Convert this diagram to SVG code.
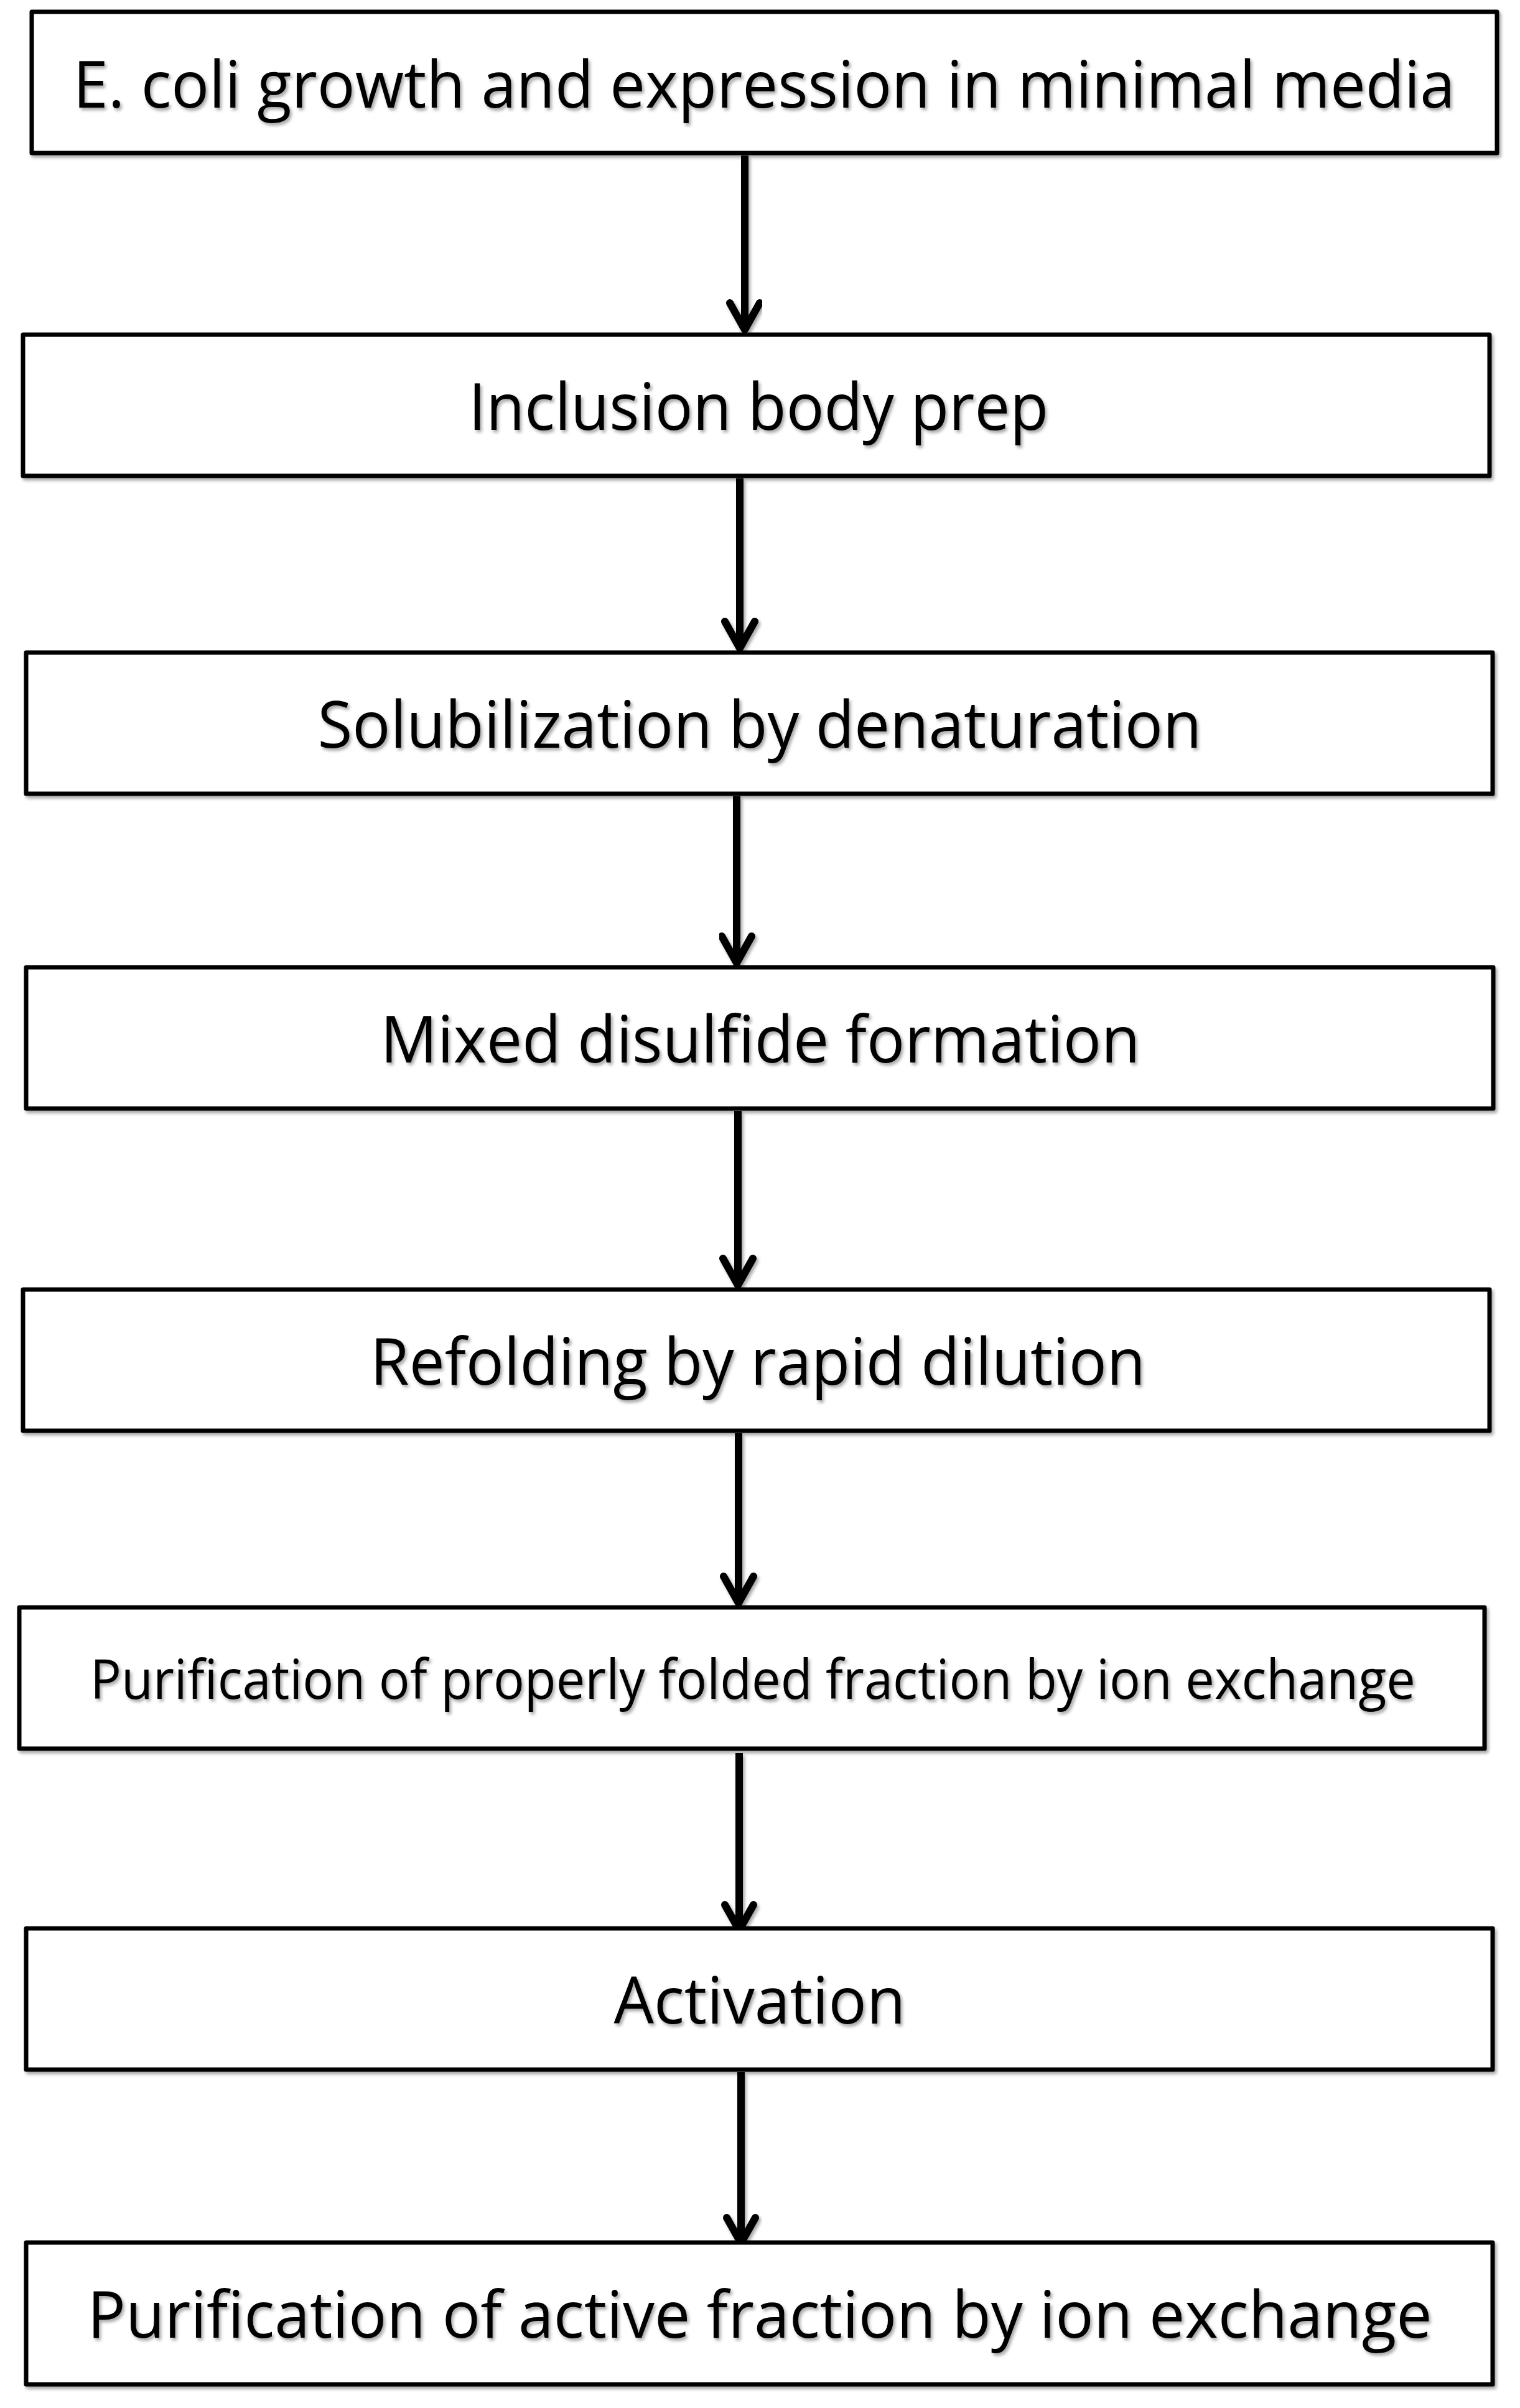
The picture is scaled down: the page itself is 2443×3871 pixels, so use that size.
<svg xmlns="http://www.w3.org/2000/svg" width="2443" height="3871" viewBox="0 0 2443 3871">
  <defs>
    <filter id="sh" x="-5%" y="-20%" width="110%" height="140%">
      <feDropShadow dx="3" dy="4" stdDeviation="2.5" flood-color="#000" flood-opacity="0.35"/>
    </filter>
    <style>
      .box { fill: #fff; stroke: #000; stroke-width: 7; stroke-linejoin: round; }
      .lbl { font-family: "Open Sans", "Noto Sans", "Liberation Sans", sans-serif; font-size: 105px; fill: #000; text-anchor: middle; }
      .sm { font-size: 88px; }
      .arr { fill: none; stroke: #000; stroke-width: 12; stroke-linecap: round; stroke-linejoin: round; }
      .shaft { stroke: #000; stroke-width: 12; stroke-linecap: butt; }
    </style>
  </defs>
  <rect width="2443" height="3871" fill="#fff"/>

  <g id="connectors" filter="url(#sh)">
    <line class="shaft" x1="1197" y1="250" x2="1197" y2="530"/>
    <polyline class="arr" points="1173,487 1197,530 1221,487"/>
    <line class="shaft" x1="1189" y1="769" x2="1189" y2="1042"/>
    <polyline class="arr" points="1165,999 1189,1042 1213,999"/>
    <line class="shaft" x1="1184" y1="1280" x2="1184" y2="1548"/>
    <polyline class="arr" points="1160,1505 1184,1548 1208,1505"/>
    <line class="shaft" x1="1186" y1="1786" x2="1186" y2="2066"/>
    <polyline class="arr" points="1162,2023 1186,2066 1210,2023"/>
    <line class="shaft" x1="1187" y1="2304" x2="1187" y2="2577"/>
    <polyline class="arr" points="1163,2534 1187,2577 1211,2534"/>
    <line class="shaft" x1="1188" y1="2818" x2="1188" y2="3103"/>
    <polyline class="arr" points="1165,3062 1188,3103 1211,3062"/>
    <line class="shaft" x1="1191" y1="3331" x2="1191" y2="3606"/>
    <polyline class="arr" points="1168,3565 1191,3606 1214,3565"/>
  </g>

  <g id="n1">
    <rect class="box" x="51" y="19" width="2355" height="227" filter="url(#sh)"/>
    <text class="lbl" x="1228" y="173" textLength="2221" lengthAdjust="spacingAndGlyphs" filter="url(#sh)">E. coli growth and expression in minimal media</text>
  </g>
  <g id="n2">
    <rect class="box" x="37" y="538" width="2357" height="227" filter="url(#sh)"/>
    <text class="lbl" x="1219" y="691" textLength="932" lengthAdjust="spacingAndGlyphs" filter="url(#sh)">Inclusion body prep</text>
  </g>
  <g id="n3">
    <rect class="box" x="42" y="1049" width="2357" height="227" filter="url(#sh)"/>
    <text class="lbl" x="1221" y="1202" textLength="1421" lengthAdjust="spacingAndGlyphs" filter="url(#sh)">Solubilization by denaturation</text>
  </g>
  <g id="n4">
    <rect class="box" x="42" y="1555" width="2358" height="227" filter="url(#sh)"/>
    <text class="lbl" x="1222" y="1708" textLength="1221" lengthAdjust="spacingAndGlyphs" filter="url(#sh)">Mixed disulfide formation</text>
  </g>
  <g id="n5">
    <rect class="box" x="37" y="2073" width="2357" height="227" filter="url(#sh)"/>
    <text class="lbl" x="1218" y="2226" textLength="1246" lengthAdjust="spacingAndGlyphs" filter="url(#sh)">Refolding by rapid dilution</text>
  </g>
  <g id="n6">
    <rect class="box" x="31" y="2584" width="2355" height="227" filter="url(#sh)"/>
    <text class="lbl sm" x="1210" y="2731" textLength="2130" lengthAdjust="spacingAndGlyphs" filter="url(#sh)">Purification of properly folded fraction by ion exchange</text>
  </g>
  <g id="n7">
    <rect class="box" x="42" y="3100" width="2357" height="227" filter="url(#sh)"/>
    <text class="lbl" x="1221" y="3253" textLength="469" lengthAdjust="spacingAndGlyphs" filter="url(#sh)">Activation</text>
  </g>
  <g id="n8">
    <rect class="box" x="42" y="3605" width="2357" height="228" filter="url(#sh)"/>
    <text class="lbl" x="1221" y="3758" textLength="2161" lengthAdjust="spacingAndGlyphs" filter="url(#sh)">Purification of active fraction by ion exchange</text>
  </g>
</svg>
